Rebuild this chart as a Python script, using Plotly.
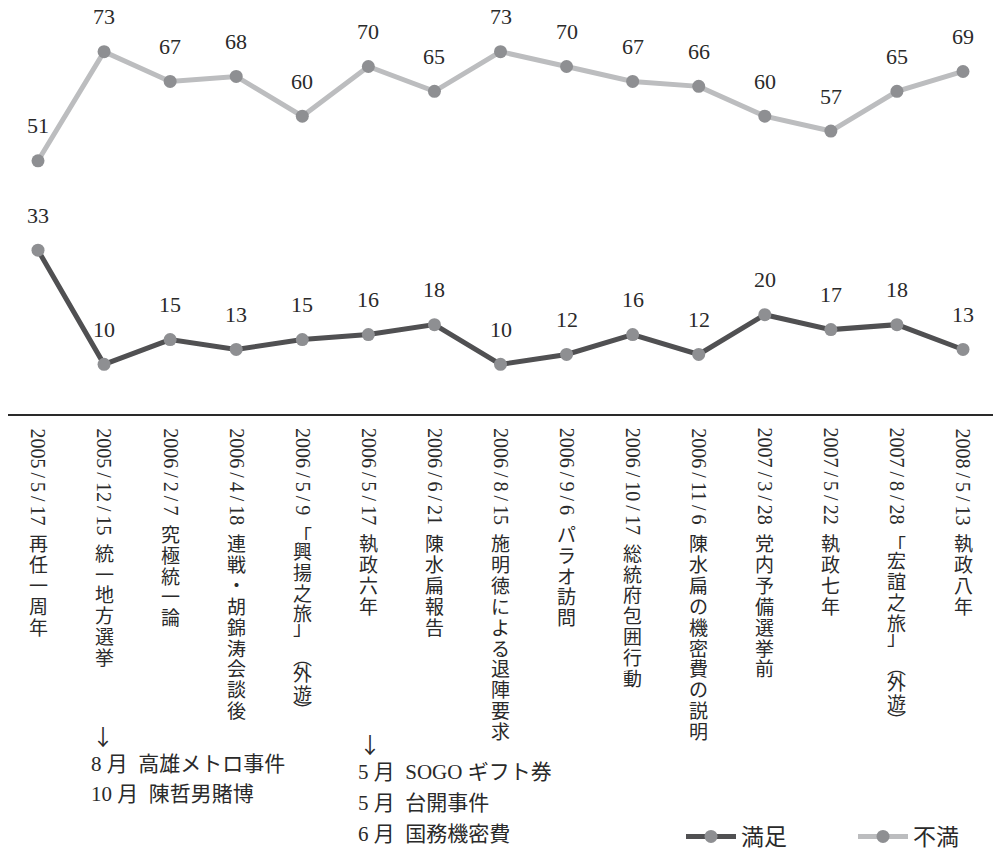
import plotly.graph_objects as go

# ---------------- data ----------------
dates = ["2005/5/17", "2005/12/15", "2006/2/7", "2006/4/18", "2006/5/9",
         "2006/5/17", "2006/6/21", "2006/8/15", "2006/9/6", "2006/10/17",
         "2006/11/6", "2007/3/28", "2007/5/22", "2007/8/28", "2008/5/13"]
events = ["再任一周年", "統一地方選挙", "究極統一論", "連戦・胡錦涛会談後", "「興揚之旅」 ︵外遊︶",
          "執政六年", "陳水扁報告", "施明徳による退陣要求", "パラオ訪問", "総統府包囲行動",
          "陳水扁の機密費の説明", "党内予備選挙前", "執政七年", "「宏誼之旅」 ︵外遊︶", "執政八年"]
satisfied = [33, 10, 15, 13, 15, 16, 18, 10, 12, 16, 12, 20, 17, 18, 13]
unsatisfied = [51, 73, 67, 68, 60, 70, 65, 73, 70, 67, 66, 60, 57, 65, 69]
series_names = ["満足", "不満"]
notes_a = ["8 月\u2002高雄メトロ事件", "10 月\u2002陳哲男賭博"]
notes_b = ["5 月\u2002SOGO ギフト券", "5 月\u2002台開事件", "6 月\u2002国務機密費"]

# ---------------- layout constants ----------------
W, H = 993, 858
L, T, PW, PH = 8, 0, 985, 417
STEP = (963 - 38) / 14.0
X0 = (L - 38) / STEP
X1 = (L + PW - 38) / STEP
YMAX = 73 + 52 / 5.0

def xp(px):
    return (px - L) / PW

def yp(py):
    return (T + PH - py) / PH

SERIF = "Liberation Serif, Noto Sans CJK JP, serif"
CJK = "Noto Sans CJK JP, sans-serif"
TXT = "#2a2a2a"

x = list(range(len(dates)))
fig = go.Figure()
fig.add_trace(go.Scatter(
    x=x, y=satisfied, name=series_names[0], mode="lines+markers",
    line=dict(color="#505052", width=5),
    marker=dict(color="#8e8f92", size=13), legend="legend",
))
fig.add_trace(go.Scatter(
    x=x, y=unsatisfied, name=series_names[1], mode="lines+markers",
    line=dict(color="#bcbdbf", width=5),
    marker=dict(color="#8e8f92", size=13), legend="legend2",
))

ann = []
# value labels
for i in x:
    for v in (satisfied[i], unsatisfied[i]):
        ann.append(dict(x=i, y=v, xref="x", yref="y", text=str(v), showarrow=False,
                        yshift=35, xanchor="center", yanchor="middle",
                        font=dict(family=SERIF, size=22, color=TXT)))

# category labels: rotated date + upright vertical kanji column
DATE_TOP = 429
DIGIT = 9.5
SLASH = 12.9
adv = {"「": 17, "」": 15, "︵": 12, "︶": 12, " ": 12}
shift = {"「": 4, "」": -4}
for i in x:
    d = dates[i]
    dtxt = d.replace("/", "\u2009/\u2009")
    ann.append(dict(x=i, y=yp(DATE_TOP), xref="x", yref="paper", text=dtxt,
                    showarrow=False, textangle=90, xanchor="center", yanchor="top",
                    font=dict(family=SERIF, size=20, color=TXT)))
    dlen = sum(DIGIT if c.isdigit() else SLASH for c in d)
    pos = DATE_TOP + dlen + 15
    for ch in events[i]:
        a = adv.get(ch, 21)
        if ch != " ":
            ann.append(dict(x=i, y=yp(pos + a / 2.0 + shift.get(ch, 0)), xref="x", yref="paper",
                            text=ch, showarrow=False, xanchor="center", yanchor="middle",
                            font=dict(family=CJK, size=19, color=TXT)))
        pos += a

# notes below
ann.append(dict(x=xp(103), y=yp(740), xref="paper", yref="paper", text="↓", showarrow=False,
                xanchor="center", yanchor="middle", font=dict(family=CJK, size=22, color=TXT)))
for k, t in enumerate(notes_a):
    ann.append(dict(x=xp(89), y=yp(770 + 30 * k), xref="paper", yref="paper", text=t,
                    showarrow=False, xanchor="left", yanchor="middle",
                    font=dict(family=SERIF, size=21, color=TXT)))
ann.append(dict(x=xp(370), y=yp(748), xref="paper", yref="paper", text="↓", showarrow=False,
                xanchor="center", yanchor="middle", font=dict(family=CJK, size=22, color=TXT)))
for k, t in enumerate(notes_b):
    ann.append(dict(x=xp(356), y=yp(778 + 31 * k), xref="paper", yref="paper", text=t,
                    showarrow=False, xanchor="left", yanchor="middle",
                    font=dict(family=SERIF, size=21, color=TXT)))

leg_common = dict(orientation="h", xanchor="left", yanchor="middle", itemwidth=50,
                  font=dict(family=CJK, size=23, color=TXT), bgcolor="rgba(0,0,0,0)")
fig.update_layout(
    width=W, height=H,
    margin=dict(l=L, r=W - L - PW, t=T, b=H - T - PH, pad=0),
    paper_bgcolor="white", plot_bgcolor="white",
    xaxis=dict(range=[X0, X1], showgrid=False, zeroline=False, showticklabels=False,
               ticks="", showline=True, linecolor="#2a2a2a", linewidth=2, fixedrange=True),
    yaxis=dict(range=[0, YMAX], showgrid=False, zeroline=False, showticklabels=False,
               ticks="", showline=False, fixedrange=True),
    showlegend=True,
    legend=dict(x=xp(681), y=yp(843), **leg_common),
    legend2=dict(x=xp(853), y=yp(843), **leg_common),
    annotations=ann,
)

fig.write_html("out.html")
